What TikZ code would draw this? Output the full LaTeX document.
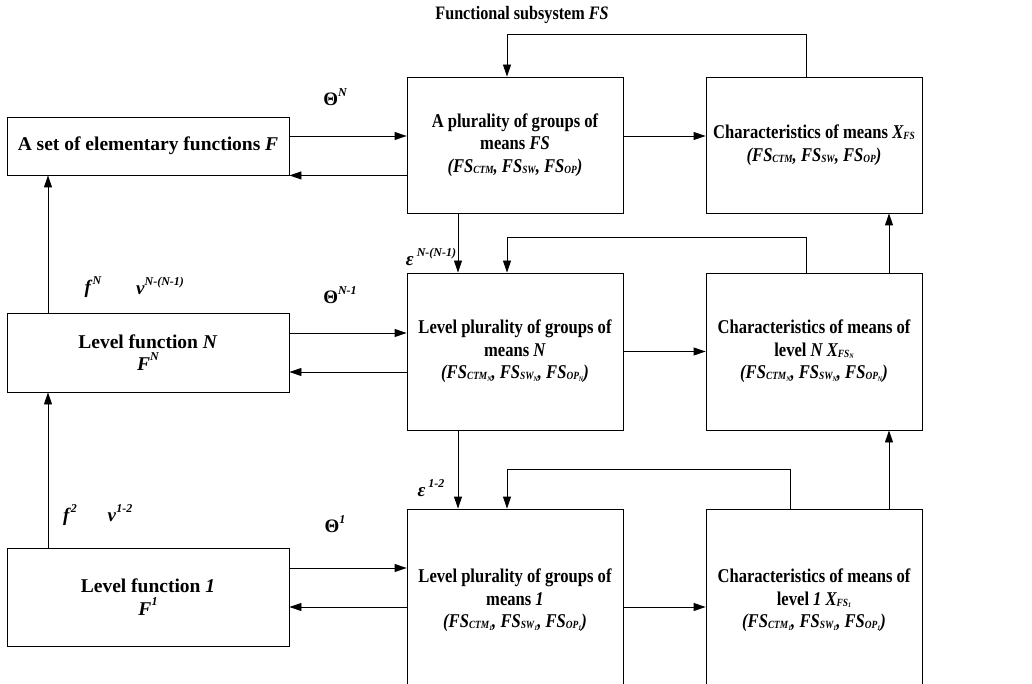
\documentclass[tikz,border=0pt]{standalone}
\usepackage{fontspec}
\setmainfont{Liberation Serif}
\newfontfamily\narrowserif{Liberation Serif}[FakeStretch=0.85]
\usetikzlibrary{arrows.meta}
% small lowered index text, as in FS_CTM
\newcommand{\lowtxt}[1]{\raisebox{-1pt}{\fontsize{11}{11}\selectfont #1}}
% tiny second-level index
\newcommand{\tinyidx}[1]{\raisebox{-1.5pt}{\fontsize{7}{7}\selectfont #1}}
% raised index for labels
\newcommand{\supx}[1]{\raisebox{0.5em}{\fontsize{12}{12}\selectfont\itshape #1}}
\begin{document}
\begin{tikzpicture}[x=1pt,y=-1pt,
  box/.style={draw,line width=0.9pt,align=center,inner sep=2pt,
    font=\fontsize{19.5}{22.5}\selectfont\bfseries},
  narrowbox/.style={box,font=\narrowserif\fontsize{19.5}{22.5}\selectfont\bfseries},
  lbl/.style={inner sep=0pt,font=\fontsize{19}{20}\selectfont\bfseries},
  arr/.style={line width=0.9pt,-{Triangle[length=12pt,width=8pt]}},
  ln/.style={line width=0.9pt}]
\useasboundingbox (0,0) rectangle (1032,684);
\clip (0,0) rectangle (1032,684);

% left column: functions
\node[box,minimum width=282pt,minimum height=58pt] (F) at (148,146)
  {A set of elementary functions \textit{F}};
\node[box,minimum width=282pt,minimum height=79pt] (LN) at (148,352.5)
  {Level function \textit{N}\\ \textit{F}\supx{N}};
\node[box,minimum width=282pt,minimum height=98pt] (L1) at (148,597)
  {Level function \textit{1}\\ \textit{F}\supx{1}};

% middle column: groups of means
\node[narrowbox,minimum width=216pt,minimum height=136pt] (FS) at (515,145)
  {A plurality of groups of\\ means \textit{FS}\\
   \textit{(FS\lowtxt{CTM}, FS\lowtxt{SW}, FS\lowtxt{OP})}};
\node[narrowbox,minimum width=216pt,minimum height=157pt] (FSN) at (515,351.5)
  {Level plurality of groups of\\ means \textit{N}\\
   \textit{(FS\lowtxt{CTM\tinyidx{N}}, FS\lowtxt{SW\tinyidx{N}}, FS\lowtxt{OP\tinyidx{N}})}};
\node[narrowbox,minimum width=216pt,minimum height=183pt] (FS1) at (515,600.5)
  {Level plurality of groups of\\ means \textit{1}\\
   \textit{(FS\lowtxt{CTM\tinyidx{1}}, FS\lowtxt{SW\tinyidx{1}}, FS\lowtxt{OP\tinyidx{1}})}};

% right column: characteristics
\node[narrowbox,minimum width=216pt,minimum height=136pt] (XFS) at (814,145)
  {Characteristics of means \textit{X\lowtxt{FS}}\\
   \textit{(FS\lowtxt{CTM}, FS\lowtxt{SW}, FS\lowtxt{OP})}};
\node[narrowbox,minimum width=216pt,minimum height=157pt] (XFSN) at (814,351.5)
  {Characteristics of means of\\ level \textit{N X\lowtxt{FS\tinyidx{N}}}\\
   \textit{(FS\lowtxt{CTM\tinyidx{N}}, FS\lowtxt{SW\tinyidx{N}}, FS\lowtxt{OP\tinyidx{N}})}};
\node[narrowbox,minimum width=216pt,minimum height=183pt] (XFS1) at (814,600.5)
  {Characteristics of means of\\ level \textit{1 X\lowtxt{FS\tinyidx{1}}}\\
   \textit{(FS\lowtxt{CTM\tinyidx{1}}, FS\lowtxt{SW\tinyidx{1}}, FS\lowtxt{OP\tinyidx{1}})}};

% labels
\node[lbl,font=\narrowserif\fontsize{19}{20}\selectfont\bfseries] (title) at (522,15)
  {Functional subsystem \textit{FS}};
\node[lbl] (thN) at (335,97) {Θ\supx{N}};
\node[lbl] (thN1) at (340,295) {Θ\supx{N-1}};
\node[lbl] (th1) at (335,524) {Θ\supx{1}};
\node[lbl] (fN) at (93,287) {\textit{f}\supx{N}};
\node[lbl] (nuN) at (160,286) {\textit{ν}\supx{N-(N-1)}};
\node[lbl] (f2) at (70,515) {\textit{f}\supx{2}};
\node[lbl] (nu12) at (120,513) {\textit{ν}\supx{1-2}};
\node[lbl] (epN) at (431,257) {\textit{ε}\,\supx{N-(N-1)}};
\node[lbl] (ep12) at (431,488) {\textit{ε}\,\supx{1-2}};

% top level links
\draw[arr] ([yshift=10pt]F.east) -- ([yshift=10pt]F.east -| FS.west);
\draw[arr] (FS.west |- F.south east) -- (F.south east);
\draw[arr] ([yshift=9pt]FS.east) -- ([yshift=9pt]FS.east -| XFS.west);
\draw[arr] ([xshift=-8pt]XFS.north) -- ++(0,-42) -| ([xshift=-8pt]FS.north);

% level N links
\draw[arr] ([yshift=19.5pt]LN.east) -- ([yshift=19.5pt]LN.east -| FSN.west);
\draw[arr] ([yshift=-19.5pt]LN.east -| FSN.west) -- ([yshift=-19.5pt]LN.east);
\draw[arr] (FSN.east) -- (XFSN.west);
\draw[arr] ([xshift=-8pt]XFSN.north) -- ++(0,-35) -| ([xshift=-8pt]FSN.north);
\draw[arr] ([xshift=-57pt]FS.south) -- ([xshift=-57pt]FSN.north);
\draw[arr] ([xshift=75pt]XFSN.north) -- ([xshift=75pt]XFS.south);

% level 1 links
\draw[arr] ([yshift=29pt]L1.east) -- ([yshift=29pt]L1.east -| FS1.west);
\draw[arr] ([yshift=-10pt]L1.east -| FS1.west) -- ([yshift=-10pt]L1.east);
\draw[arr] ([yshift=-6.5pt]FS1.east) -- ([yshift=-6.5pt]FS1.east -| XFS1.west);
\draw[arr] ([xshift=-24pt]XFS1.north) -- ++(0,-39) -| ([xshift=-8pt]FS1.north);
\draw[arr] ([xshift=-57pt]FSN.south) -- ([xshift=-57pt]FS1.north);
\draw[arr] ([xshift=75pt]XFS1.north) -- ([xshift=75pt]XFSN.south);

% function hierarchy
\draw[arr] ([xshift=-100pt]LN.north) -- ([xshift=-100pt]F.south);
\draw[arr] ([xshift=-100pt]L1.north) -- ([xshift=-100pt]LN.south);
\end{tikzpicture}
\end{document}
